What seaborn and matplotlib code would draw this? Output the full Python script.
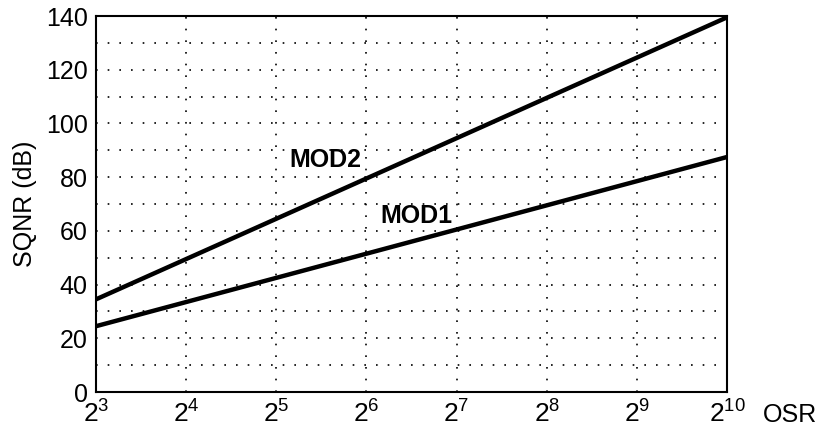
import numpy as np
import pandas as pd
import matplotlib
matplotlib.use("Agg")
import matplotlib.pyplot as plt
import seaborn as sns

osr_exp = [3, 4, 5, 6, 7, 8, 9, 10]
mod1 = [24.5, 33.5, 42.5, 51.5, 60.5, 69.5, 78.5, 87.5]
mod2 = [34.5, 49.5, 64.5, 79.5, 94.5, 109.5, 124.5, 139.5]
series_names = ["MOD1", "MOD2"]
y_ticks = [0, 20, 40, 60, 80, 100, 120, 140]

df = pd.DataFrame({
    "osr": [2.0 ** e for e in osr_exp] * 2,
    "sqnr": mod1 + mod2,
    "mod": [series_names[0]] * len(mod1) + [series_names[1]] * len(mod2),
})

sns.set_style("white")
plt.rcParams["font.family"] = ["Liberation Sans", "DejaVu Sans"]
plt.rcParams["mathtext.fontset"] = "custom"
plt.rcParams["mathtext.rm"] = "Liberation Sans"
plt.rcParams["text.color"] = "black"
plt.rcParams["axes.labelcolor"] = "black"

fig = plt.figure(figsize=(8.2, 4.29), dpi=100)
ax = fig.add_axes([96 / 820, 1 - 392 / 429, (727 - 96) / 820, (392 - 16) / 429])

sns.lineplot(data=df, x="osr", y="sqnr", hue="mod", palette=["black", "black"],
             linewidth=3.2, legend=False, ax=ax)
ax.set_xscale("log", base=2)
ax.set_xlim(2 ** 3, 2 ** 10)
ax.set_ylim(0, 140)
ax.set_xticks([2.0 ** e for e in osr_exp])
ax.set_xticklabels([f"$\\mathregular{{2^{{{e}}}}}$" for e in osr_exp])
ax.xaxis.set_minor_locator(matplotlib.ticker.NullLocator())
ax.set_yticks(y_ticks)
ax.set_yticks(np.arange(10, 140, 20), minor=True)
ax.grid(True, which="both", linestyle=(0, (1, 6)), color="black", linewidth=1.2)
ax.tick_params(axis="both", which="both", direction="in", length=4, width=1,
               color="black", labelcolor="black")
ax.tick_params(axis="y", which="major", labelsize=18, pad=6)
ax.tick_params(axis="x", which="major", labelsize=19, pad=6)
for s in ax.spines.values():
    s.set_color("black")
    s.set_linewidth(1.5)
ax.set_xlabel("")
ax.set_ylabel("SQNR (dB)", fontsize=18, labelpad=6, color="black")
ax.text(2 ** 10.40, -8.6, "OSR", fontsize=18, ha="left", va="center",
        color="black", clip_on=False)

ax.text(2 ** 5.55, 86.5, "MOD2", fontsize=18, fontweight="bold", ha="center",
        va="center", color="black")
ax.text(2 ** 6.55, 65.5, "MOD1", fontsize=18, fontweight="bold", ha="center",
        va="center", color="black")

fig.savefig("out.png", dpi=100)
